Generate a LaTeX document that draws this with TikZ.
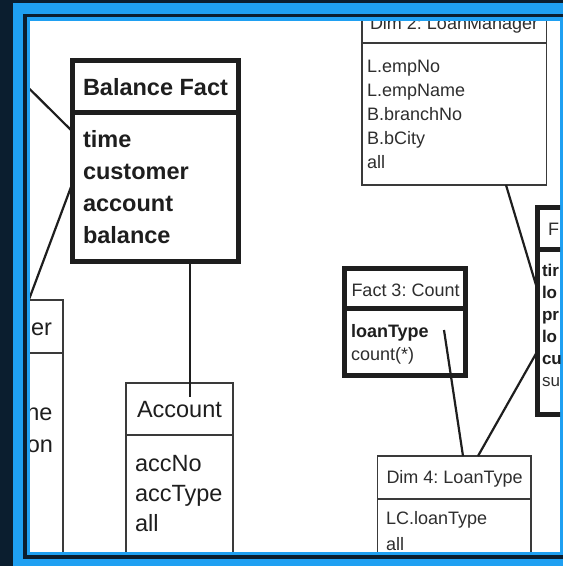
\documentclass[tikz,border=0pt]{standalone}
\usepackage{fontspec}
\setmainfont{Liberation Sans}
\frenchspacing
\definecolor{navy}{HTML}{0B1E2F}
\definecolor{frameblue}{HTML}{1FA0F2}
\definecolor{ink}{HTML}{1E1E1E}
\definecolor{thinink}{HTML}{3A3A3A}
\definecolor{softink}{HTML}{2E2E2E}
\begin{document}
\begin{tikzpicture}[x=1pt,y=-1pt,
  bigr/.style={font=\fontsize{23.5}{28}\selectfont, text=ink},
  bigb/.style={font=\fontsize{23.5}{28}\selectfont\bfseries, text=ink},
  smr/.style={font=\fontsize{18}{22}\selectfont, text=softink},
  smb/.style={font=\fontsize{18}{22}\selectfont\bfseries, text=ink},
  rfr/.style={font=\fontsize{17}{20}\selectfont, text=softink},
  rfb/.style={font=\fontsize{17}{20}\selectfont\bfseries, text=ink},
  txt/.style={inner sep=0pt, outer sep=0pt, anchor=base west},
  txte/.style={inner sep=0pt, outer sep=0pt, anchor=base east},
  thickbox/.style={draw=ink, line width=5pt, inner sep=0pt, outer sep=0pt, anchor=north west},
  thinbox/.style={draw=thinink, line width=1.8pt, inner sep=0pt, outer sep=0pt, anchor=north west},
  thicksep/.style={draw=ink, line width=5pt},
  thinsep/.style={draw=thinink, line width=1.8pt},
  link/.style={draw=ink, line width=2.2pt},
]
\useasboundingbox (0,0) rectangle (563,566);
% frame
\fill[navy] (0,0) rectangle (563,566);
\fill[frameblue] (13,3) rectangle (563,566);
\fill[navy] (23,14) rectangle (563,559.3);
\fill[frameblue] (27,17) rectangle (563,555);
\fill[white] (30,21) rectangle (560,551.7);

\begin{scope}
\clip (30,21) rectangle (560,551.7);

% Balance Fact
\node[thickbox, minimum width=166pt, minimum height=201pt] (bf) at (72.5,60.5) {};
\draw[thicksep] ([yshift=-52pt]bf.north west) -- ([yshift=-52pt]bf.north east);
\node[txt, bigb] (bft) at (83,95) {Balance Fact};
\node[txt, bigb] (bf1) at (83,147) {time};
\node[txt, bigb] (bf2) at (83,179) {customer};
\node[txt, bigb] (bf3) at (83,211) {account};
\node[txt, bigb] (bf4) at (83,243) {balance};

% Account
\node[thinbox, minimum width=107pt, minimum height=217pt] (acc) at (126,383) {};
\draw[thinsep] ([yshift=-52pt]acc.north west) -- ([yshift=-52pt]acc.north east);
\node[txt, bigr] (acct) at (137,417) {Account};
\node[txt, bigr] (acc1) at (135,471) {accNo};
\node[txt, bigr] (acc2) at (135,501) {accType};
\node[txt, bigr] (acc3) at (135,531) {all};

% Customer (cut off)
\node[thinbox, anchor=north east, minimum width=150pt, minimum height=300pt] (cust) at (63,300) {};
\draw[thinsep] ([yshift=-53pt]cust.north west) -- ([yshift=-53pt]cust.north east);
\node[txte, bigr] (custt) at (52,335) {er};
\node[txte, bigr] (cust1) at (52.5,420) {ne};
\node[txte, bigr] (cust2) at (53,452) {on};

% Dim 2: LoanManager
\node[thinbox, minimum width=184.5pt, minimum height=195pt] (dtwo) at (362,-10) {};
\draw[thinsep] ([yshift=-53pt]dtwo.north west) -- ([yshift=-53pt]dtwo.north east);
\node[txt, smr] (dtwot) at (370,29) {Dim 2: LoanManager};
\node[txt, smr] (dtwo1) at (367,72) {L.empNo};
\node[txt, smr] (dtwo2) at (367,96) {L.empName};
\node[txt, smr] (dtwo3) at (367,120) {B.branchNo};
\node[txt, smr] (dtwo4) at (367,144) {B.bCity};
\node[txt, smr] (dtwo5) at (367,168) {all};

% Fact 3: Count
\node[thickbox, minimum width=121pt, minimum height=107pt] (fthree) at (344.5,268.5) {};
\draw[thicksep] ([yshift=-40pt]fthree.north west) -- ([yshift=-40pt]fthree.north east);
\node[txt, smr] (fthreet) at (351.5,296.5) {Fact 3: Count};
\node[txt, smb] (lt) at (351,337) {loanType};
\node[txt, smr] (cnt) at (351,360) {count(*)};

% Dim 4: LoanType
\node[thinbox, minimum width=153.5pt, minimum height=144pt] (dfour) at (377.5,456) {};
\draw[thinsep] ([yshift=-43pt]dfour.north west) -- ([yshift=-43pt]dfour.north east);
\node[txt, smr] (dfourt) at (386.5,483.5) {Dim 4: LoanType};
\node[txt, smr] (dfour1) at (386,524.5) {LC.loanType};
\node[txt, smr] (dfour2) at (386,550) {all};

% Right fact (cut off)
\node[thickbox, minimum width=100pt, minimum height=207pt] (rf) at (537.5,207.5) {};
\draw[thicksep] ([yshift=-42pt]rf.north west) -- ([yshift=-42pt]rf.north east);
\node[txt, smr] (rft) at (548,235) {F};
\node[txt, rfb] (rf1) at (542,276) {tir};
\node[txt, rfb] (rf2) at (542,298) {lo};
\node[txt, rfb] (rf3) at (542,320) {pr};
\node[txt, rfb] (rf4) at (542,342) {lo};
\node[txt, rfb] (rf5) at (542,364) {cu};
\node[txt, rfr] (rf6) at (542,386) {su};

% connectors
\coordinate (lx) at (190,0);
\coordinate (accin) at ([yshift=-14pt]acc.north);
\draw[link] (bf.south -| lx) -- (accin -| lx);
\coordinate (la) at (10,69.5);
\draw[link] (la) -- ([yshift=-71pt]bf.north west);
\draw[link] ([yshift=-122.5pt]bf.north west) -- ([xshift=-34.2pt]cust.north east);
\draw[link] ([xshift=144pt]dtwo.south west) -- ([yshift=-82.5pt]rf.north west);
\coordinate (ltend) at (444,330);
\draw[link] (ltend) -- ([xshift=85.5pt]dfour.north west);
\draw[link] ([xshift=100.5pt]dfour.north west) -- ([yshift=-143.5pt]rf.north west);
\end{scope}
\end{tikzpicture}
\end{document}
